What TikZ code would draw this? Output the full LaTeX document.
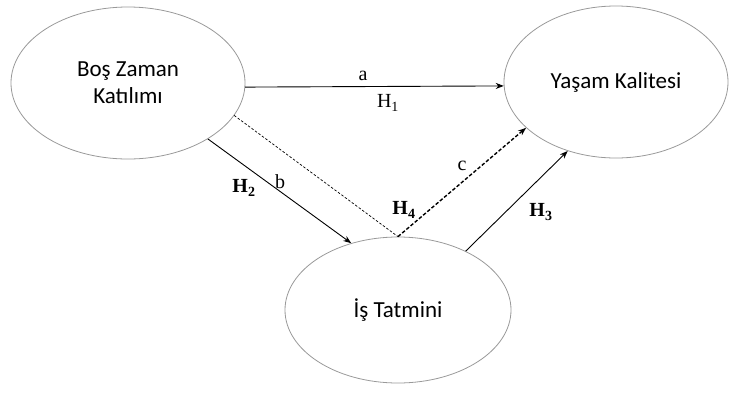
\documentclass[tikz,border=0pt]{standalone}
\usepackage{fontspec}
\setmainfont{Liberation Serif}
\newfontfamily\calib{Carlito}
\usetikzlibrary{arrows.meta,shapes.geometric}
\begin{document}
\begin{tikzpicture}[x=1pt,y=-1pt,
  oval/.style={ellipse,draw=black!40,line width=0.8pt,inner sep=0pt,align=center,font=\calib\fontsize{23}{27}\selectfont},
  conn/.style={draw=black,line width=0.9pt,-{Stealth[length=8pt,width=6pt]}},
  lab/.style={font=\fontsize{20}{22}\selectfont,inner sep=0pt},
  blab/.style={font=\bfseries\fontsize{20}{22}\selectfont,inner sep=0pt}]
\useasboundingbox (0,0) rectangle (729,397);
\node[oval,minimum width=234pt,minimum height=152pt] (A) at (128,83) {Boş Zaman\\Katılımı};
\node[oval,minimum width=224pt,minimum height=152pt] (B) at (616,82) {Yaşam Kalitesi};
\node[oval,minimum width=226pt,minimum height=146pt] (C) at (398,310) {İş Tatmini};
\draw[conn] (A.-2) -- (B.182);
\draw[black,line width=0.7pt,dash pattern=on 2.5pt off 1.8pt] (A.-17) -- (C.north);
\draw[conn,line width=1.4pt,dash pattern=on 3.5pt off 2pt] (C.north) -- (B.207);
\draw[conn] (A.-35) -- (C.125);
\draw[conn] (C.41) -- (B.235);
\node[lab] (la) at (363,76) {a};
\node[lab] (lh1) at (388,103) {H\textsubscript{1}};
\node[lab] (lb) at (280,182) {b};
\node[blab] (lh2) at (244,188) {H\textsubscript{2}};
\node[blab] (lh4) at (404,210) {H\textsubscript{4}};
\node[lab] (lc) at (462,166) {c};
\node[blab] (lh3) at (541,212) {H\textsubscript{3}};
\end{tikzpicture}
\end{document}
